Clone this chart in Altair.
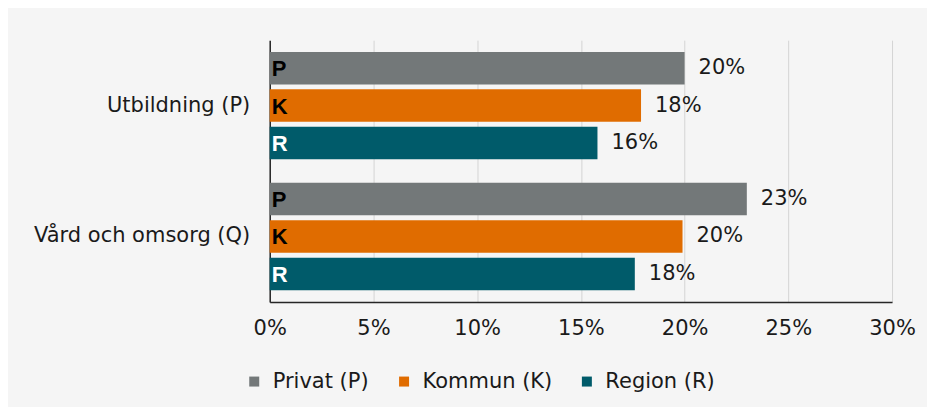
import altair as alt
import pandas as pd

categories = ["Utbildning (P)", "Vård och omsorg (Q)"]
series = ["Privat (P)", "Kommun (K)", "Region (R)"]
abbr = ["P", "K", "R"]
utbildning = [0.200, 0.179, 0.158]
vard = [0.230, 0.199, 0.176]
colors = ["#737879", "#E06C00", "#005B6A"]
x_ticks = [0, 0.05, 0.10, 0.15, 0.20, 0.25, 0.30]

rows = []
for cat, vals in zip(categories, [utbildning, vard]):
    for s, a, v in zip(series, abbr, vals):
        rows.append({"cat": cat, "series": s, "abbr": a, "value": v})
df = pd.DataFrame(rows)

FONT = "DejaVu Sans"
TXT = "#1a1a1a"

x = alt.X(
    "value:Q",
    scale=alt.Scale(domain=[0, 0.3], nice=False, zero=True),
    axis=alt.Axis(
        values=x_ticks, format=".0%", title=None, ticks=False, grid=True,
        gridColor="#d4d4d4", gridWidth=1, domainColor="#262626", domainWidth=1.5,
        labelFont=FONT, labelFontSize=21, labelColor=TXT, labelPadding=16,
        labelFlush=False,
    ),
)
y = alt.Y(
    "cat:N", sort=categories,
    scale=alt.Scale(paddingInner=0, paddingOuter=0),
    axis=alt.Axis(
        title=None, ticks=False, grid=False, domainColor="#262626", domainWidth=1.5,
        labelFont=FONT, labelFontSize=21, labelColor=TXT, labelPadding=20, labelLimit=400,
    ),
)
yoff = alt.YOffset("series:N", sort=series, scale=alt.Scale(paddingInner=0.133, paddingOuter=0.313))

base = alt.Chart(df)

bars = base.mark_bar().encode(
    x=x, y=y, yOffset=yoff,
    color=alt.Color(
        "series:N", sort=series,
        scale=alt.Scale(domain=series, range=colors),
        legend=alt.Legend(
            title=None, orient="none", legendX=-26, legendY=331, direction="horizontal",
            symbolType="square", symbolSize=100, symbolStrokeWidth=0, labelOffset=8,
            columnPadding=24, labelFont=FONT, labelFontSize=21, labelColor=TXT,
        ),
    ),
)

values = base.mark_text(align="left", baseline="middle", dx=14, font=FONT, fontSize=21, color=TXT).encode(
    x=alt.X("value:Q"), y=alt.Y("cat:N", sort=categories), yOffset=alt.YOffset("series:N", sort=series),
    text=alt.Text("value:Q", format=".0%"),
)

letters = base.mark_text(align="left", baseline="middle", dx=2, dy=1, font="Liberation Sans", fontSize=22, fontWeight="bold").encode(
    x=alt.datum(0), y=alt.Y("cat:N", sort=categories), yOffset=alt.YOffset("series:N", sort=series),
    text="abbr:N",
    color=alt.condition(alt.datum.abbr == "R", alt.value("white"), alt.value("black")),
)

chart = alt.layer(bars, values, letters).properties(
    width=623, height=262,
    autosize=alt.AutoSizeParams(type="none"),
    padding={"left": 262, "top": 32, "right": 35, "bottom": 105},
    background="#f5f5f5",
).configure_view(stroke=None)

chart.save("out.html", embed_options={"renderer": "svg", "actions": False})
